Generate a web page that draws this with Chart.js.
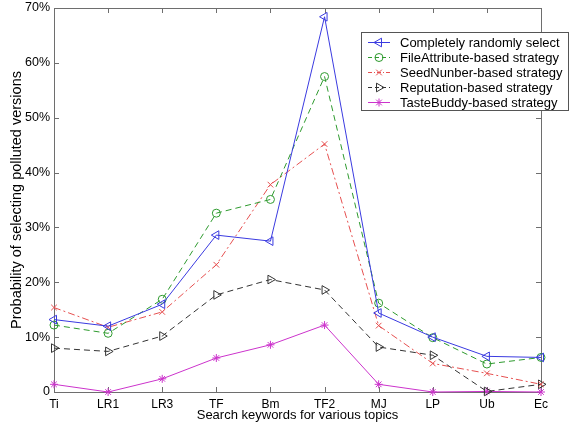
<!DOCTYPE html>
<html>
<head>
<meta charset="utf-8">
<script src="https://cdn.jsdelivr.net/npm/chart.js@4/dist/chart.umd.min.js"></script>
<style>
html,body{margin:0;padding:0;background:#fff;}
canvas{display:block;}
</style>
</head>
<body>
<canvas id="c" width="574" height="423"></canvas>
<script>
const categories = ['Ti','LR1','LR3','TF','Bm','TF2','MJ','LP','Ub','Ec'];
const randomSelect = [13.2, 12.0, 16.0, 28.6, 27.5, 68.4, 14.4, 10.0, 6.5, 6.3];
const fileAttribute = [12.2, 10.7, 16.9, 32.6, 35.1, 57.5, 16.2, 9.9, 5.1, 6.3];
const seedNumber = [15.4, 11.8, 14.6, 23.2, 37.8, 45.2, 12.1, 5.2, 3.4, 1.4];
const reputation = [8.0, 7.4, 10.2, 17.7, 20.5, 18.6, 8.2, 6.7, 0.1, 1.4];
const tasteBuddy = [1.4, 0, 2.4, 6.2, 8.6, 12.2, 1.4, 0, 0.1, 0];
const seriesNames = ['Completely randomly select','FileAttribute-based strategy','SeedNunber-based strategy','Reputation-based strategy','TasteBuddy-based strategy'];
const yTicks = [0,10,20,30,40,50,60,70];

const FONT = "'Liberation Sans', Arial, sans-serif";
const AXIS_COLOR = '#6e6e6e';

function ds(label, data, color, style, rotation, dash, radius) {
  return {
    label, data,
    borderColor: color, backgroundColor: 'rgba(0,0,0,0)',
    borderWidth: 1, borderDash: dash,
    pointStyle: style, rotation: rotation, pointRadius: radius,
    pointBorderColor: color, pointBackgroundColor: 'rgba(0,0,0,0)',
    pointBorderWidth: 1, tension: 0, clip: false
  };
}

const datasets = [
  ds(seriesNames[0], randomSelect, '#3a3ae0', 'triangle', -90, [], 5),
  ds(seriesNames[1], fileAttribute, '#2e9a2e', 'circle', 0, [6,4], 4),
  ds(seriesNames[2], seedNumber, '#e65050', 'crossRot', 0, [7,3,2,3], 4),
  ds(seriesNames[3], reputation, '#333333', 'triangle', 90, [6,4], 5),
  ds(seriesNames[4], tasteBuddy, '#cc33cc', 'star', 0, [], 4)
];

const framePlugin = {
  id: 'frame',
  beforeDatasetsDraw(chart) {
    const {ctx, chartArea: a, scales} = chart;
    ctx.save();
    ctx.strokeStyle = AXIS_COLOR;
    ctx.lineWidth = 1;
    ctx.strokeRect(Math.round(a.left)+0.5, Math.round(a.top)+0.5, Math.round(a.right-a.left), Math.round(a.bottom-a.top));
    const L = 5;
    ctx.beginPath();
    scales.x.ticks.forEach((t, i) => {
      const px = Math.round(scales.x.getPixelForTick(i)) + 0.5;
      ctx.moveTo(px, a.bottom); ctx.lineTo(px, a.bottom - L);
      ctx.moveTo(px, a.top); ctx.lineTo(px, a.top + L);
    });
    scales.y.ticks.forEach((t, i) => {
      const py = Math.round(scales.y.getPixelForTick(i)) + 0.5;
      ctx.moveTo(a.left, py); ctx.lineTo(a.left + L, py);
      ctx.moveTo(a.right, py); ctx.lineTo(a.right - L, py);
    });
    ctx.stroke();
    ctx.restore();
  },
  afterDatasetsDraw(chart) {
    const {ctx} = chart;
    const bx = 361.5, by = 32.5, bw = 207, bh = 78;
    ctx.save();
    ctx.fillStyle = '#fff';
    ctx.fillRect(bx, by, bw, bh);
    ctx.strokeStyle = '#555';
    ctx.lineWidth = 1;
    ctx.strokeRect(bx, by, bw, bh);
    ctx.font = '13px ' + FONT;
    ctx.textBaseline = 'middle';
    chart.data.datasets.forEach((d, i) => {
      const y = 42 + i * 15;
      ctx.save();
      ctx.strokeStyle = d.borderColor;
      ctx.fillStyle = 'rgba(0,0,0,0)';
      ctx.lineWidth = 1;
      ctx.setLineDash(d.borderDash.length ? [4,3] : []);
      if (i === 2) ctx.setLineDash([4,2,1,2]);
      ctx.beginPath();
      ctx.moveTo(368, y + 0.5); ctx.lineTo(390, y + 0.5);
      ctx.stroke();
      ctx.setLineDash([]);
      Chart.helpers.drawPoint(ctx, {pointStyle: d.pointStyle, rotation: d.rotation, radius: d.pointRadius, borderWidth: 1}, 379, y + 0.5);
      ctx.restore();
      ctx.fillStyle = '#000';
      ctx.fillText(d.label, 400, y + 1);
    });
    ctx.restore();
  }
};

new Chart(document.getElementById('c'), {
  type: 'line',
  data: { labels: categories, datasets },
  options: {
    responsive: false,
    animation: false,
    devicePixelRatio: 1,
    layout: { padding: { left: 0, right: 33, top: 8, bottom: 0 } },
    plugins: { legend: { display: false }, tooltip: { enabled: false } },
    scales: {
      x: {
        type: 'category',
        offset: false,
        grid: { display: false, drawTicks: false },
        border: { display: false },
        ticks: { color: '#000', font: { family: FONT, size: 12 }, padding: 5, maxRotation: 0, autoSkip: false },
        title: { display: true, text: 'Search keywords for various topics', color: '#000', font: { family: FONT, size: 13 }, padding: { top: 0, bottom: 0 } },
        afterFit(s) { s.height = 31; s.paddingLeft = 0; s.paddingRight = 0; }
      },
      y: {
        min: 0, max: 70,
        afterBuildTicks(s) { s.ticks = yTicks.map(v => ({ value: v })); },
        grid: { display: false, drawTicks: false },
        border: { display: false },
        ticks: { color: '#000', font: { family: FONT, size: 12.5 }, padding: 4,
          callback: v => v === 0 ? '0' : v + '%' },
        title: { display: true, text: 'Probability of selecting polluted versions', color: '#000', font: { family: FONT, size: 14.5 }, padding: { top: 8, bottom: 0 } },
        afterFit(s) { s.width = 54; s.paddingTop = 0; s.paddingBottom = 0; }
      }
    }
  },
  plugins: [framePlugin]
});
</script>
</body>
</html>
